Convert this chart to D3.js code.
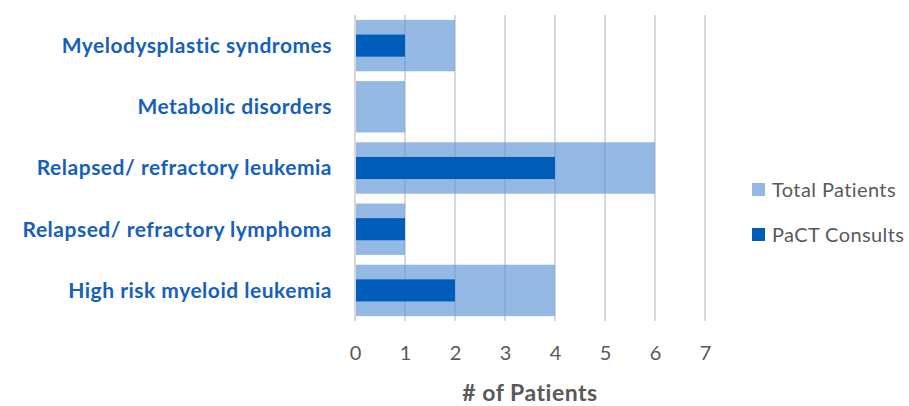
<!DOCTYPE html>
<html>
<head>
<meta charset="utf-8">
<script src="https://cdn.jsdelivr.net/npm/d3@7"></script>
<style>
  body { margin: 0; background: #fff; }
  svg { display: block; font-family: Lato, "Open Sans", sans-serif; }
</style>
</head>
<body>
<div id="chart"></div>
<script>
// data, top to bottom as in the picture
var categories = ["Myelodysplastic syndromes", "Metabolic disorders", "Relapsed/ refractory leukemia", "Relapsed/ refractory lymphoma", "High risk myeloid leukemia"];
var totalPatients = [2, 1, 6, 1, 4];
var pactConsults = [1, 0, 4, 1, 2];
var xTicks = [0, 1, 2, 3, 4, 5, 6, 7];
var seriesNames = ["Total Patients", "PaCT Consults"];
var seriesColors = ["#95b8e3", "#005cb9"];

var W = 909, H = 406;
var margin = {top: 15, right: 204, bottom: 85, left: 355};
var width = W - margin.left - margin.right,
    height = H - margin.top - margin.bottom;

var svg = d3.select("#chart")
  .append("svg")
    .attr("width", W)
    .attr("height", H)
  .append("g")
    .attr("transform", "translate(" + margin.left + "," + margin.top + ")");

var x = d3.scaleLinear()
  .domain([0, 7])
  .range([0, width]);

var y = d3.scaleBand()
  .domain(categories)
  .range([0, height])
  .paddingInner(0.16)
  .paddingOuter(0.08);

// gridlines
svg.selectAll(".grid")
  .data(xTicks)
  .enter()
  .append("line")
    .attr("x1", function(d) { return x(d); })
    .attr("x2", function(d) { return x(d); })
    .attr("y1", 0)
    .attr("y2", height)
    .attr("stroke", "#d9d9d9")
    .attr("stroke-width", 2);

// total bars (slightly see-through, grid shows through)
svg.selectAll(".total")
  .data(totalPatients)
  .enter()
  .append("rect")
    .attr("x", x(0) + 1)
    .attr("y", function(d, i) { return y(categories[i]); })
    .attr("width", function(d) { return Math.max(0, x(d) - x(0) - 1); })
    .attr("height", y.bandwidth())
    .attr("fill", "#5b93d6")
    .attr("fill-opacity", 0.65);

// consult bars
var inner = y.bandwidth() * 0.43;
svg.selectAll(".consult")
  .data(pactConsults)
  .enter()
  .append("rect")
    .attr("x", x(0) + 1)
    .attr("y", function(d, i) { return y(categories[i]) + (y.bandwidth() - inner) / 2; })
    .attr("width", function(d) { return Math.max(0, x(d) - x(0) - 1); })
    .attr("height", inner)
    .attr("fill", seriesColors[1]);

// category labels
svg.selectAll(".cat")
  .data(categories)
  .enter()
  .append("text")
    .attr("x", -23)
    .attr("y", function(d) { return y(d) + y.bandwidth() / 2; })
    .attr("dy", "0.35em")
    .attr("text-anchor", "end")
    .attr("font-weight", "bold")
    .attr("font-size", "21px")
    .attr("letter-spacing", "0.5px")
    .attr("fill", "#1560bd")
    .text(function(d) { return d; });

// x axis
var xAxis = svg.append("g")
  .attr("transform", "translate(0," + height + ")")
  .call(d3.axisBottom(x).tickValues(xTicks).tickFormat(d3.format("d")).tickSize(0).tickPadding(25));
xAxis.select(".domain").remove();
xAxis.selectAll("text")
  .attr("font-family", "Lato, sans-serif")
  .attr("font-size", "20px")
  .attr("fill", "#595959");

svg.append("text")
  .attr("x", width / 2)
  .attr("y", height + 80)
  .attr("text-anchor", "middle")
  .attr("font-weight", "bold")
  .attr("font-size", "23px")
  .attr("letter-spacing", "0.5px")
  .attr("fill", "#595959")
  .text("# of Patients");

// legend
var legend = svg.append("g")
  .attr("transform", "translate(" + (width + 47) + "," + 175 + ")");
seriesNames.forEach(function(name, i) {
  var g = legend.append("g").attr("transform", "translate(0," + (i * 45) + ")");
  g.append("rect")
    .attr("x", 0).attr("y", -7)
    .attr("width", 13).attr("height", 13)
    .attr("fill", seriesColors[i]);
  g.append("text")
    .attr("x", 20)
    .attr("dy", "0.35em")
    .attr("font-size", "20px")
    .attr("letter-spacing", "0.4px")
    .attr("fill", "#595959")
    .text(name);
});
</script>
</body>
</html>
